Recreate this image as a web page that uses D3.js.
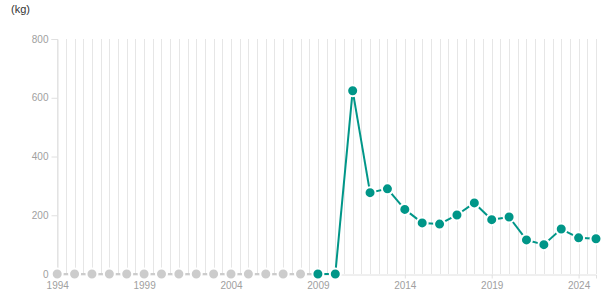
<!DOCTYPE html>
<html><head><meta charset="utf-8">
<script src="https://cdn.jsdelivr.net/npm/d3@7/dist/d3.min.js"></script>
<style>body{margin:0;background:#fff}svg{display:block}</style>
</head><body><svg id="c" width="615" height="305"></svg>
<script>
const years = d3.range(1994, 2026);
const values = [0,0,0,0,0,0,0,0,0,0,0,0,0,0,0,0,0,624,277,290,220,174,170,201,242,185,194,116,100,153,123,120];
const hasData = [false,false,false,false,false,false,false,false,false,false,false,false,false,false,false,true,true,true,true,true,true,true,true,true,true,true,true,true,true,true,true,true];
const yTicks = [0,200,400,600,800];
const xTicks = [1994,1999,2004,2009,2014,2019,2024];
const unit = "(kg)";

(function(){
const svg = d3.select("#c");
const mL = 57.2, mR = 596, mT = 39, mB = 274;
const x = d3.scaleLinear().domain([1994,2025]).range([mL,mR]);
const y = d3.scaleLinear().domain([0,800]).range([mB,mT]);
const teal = "#009688", gray = "#cccccc";

const grid = d3.range(1994, 2025.01, 0.5);
svg.append("g").selectAll("line").data(grid).join("line")
  .attr("x1", d=>Math.round(x(d))+0.5).attr("x2", d=>Math.round(x(d))+0.5).attr("y1", mT).attr("y2", mB)
  .attr("stroke", "#e6e6e6").attr("stroke-width", 1);

const yAxis = svg.append("g").attr("transform", `translate(${Math.round(mL)+0.5},0)`)
  .call(d3.axisLeft(y).tickValues(yTicks).tickSize(6).tickPadding(3));
yAxis.select(".domain").attr("stroke", "#e0e0e0");
yAxis.selectAll(".tick line").attr("stroke", "#e0e0e0");
yAxis.selectAll("text").attr("fill", "#a0a0a0").attr("font-family", "Arial, 'Liberation Sans', sans-serif").attr("font-size", 10);

const xAxis = svg.append("g").attr("transform", `translate(0,${mB+0.5})`)
  .call(d3.axisBottom(x).tickValues(xTicks).tickFormat(d3.format("d")).tickSize(4).tickPadding(3));
xAxis.select(".domain").attr("stroke", "#e0e0e0");
xAxis.selectAll(".tick line").attr("stroke", "#e0e0e0");
xAxis.selectAll("text").attr("fill", "#a0a0a0").attr("font-family", "Arial, 'Liberation Sans', sans-serif").attr("font-size", 10);

const pts = years.map((yr,i)=>({yr, v:values[i], ok:hasData[i]}));
const segs = d3.pairs(pts);
svg.append("g").selectAll("line").data(segs).join("line")
  .attr("x1", d=>x(d[0].yr)).attr("y1", d=>y(d[0].v))
  .attr("x2", d=>x(d[1].yr)).attr("y2", d=>y(d[1].v))
  .attr("stroke", d=> d[0].ok && d[1].ok ? teal : gray)
  .attr("stroke-width", 2);

svg.append("g").selectAll("circle").data(pts).join("circle")
  .attr("cx", d=>x(d.yr)).attr("cy", d=>y(d.v)).attr("r", 5.5)
  .attr("fill", d=>d.ok ? teal : gray)
  .attr("stroke", "#fff").attr("stroke-width", 2);

svg.append("text").attr("x", 11).attr("y", 13).text(unit)
  .attr("font-family", "Arial, 'Liberation Sans', sans-serif").attr("font-size", 11).attr("fill", "#333");
})();
</script></body></html>
